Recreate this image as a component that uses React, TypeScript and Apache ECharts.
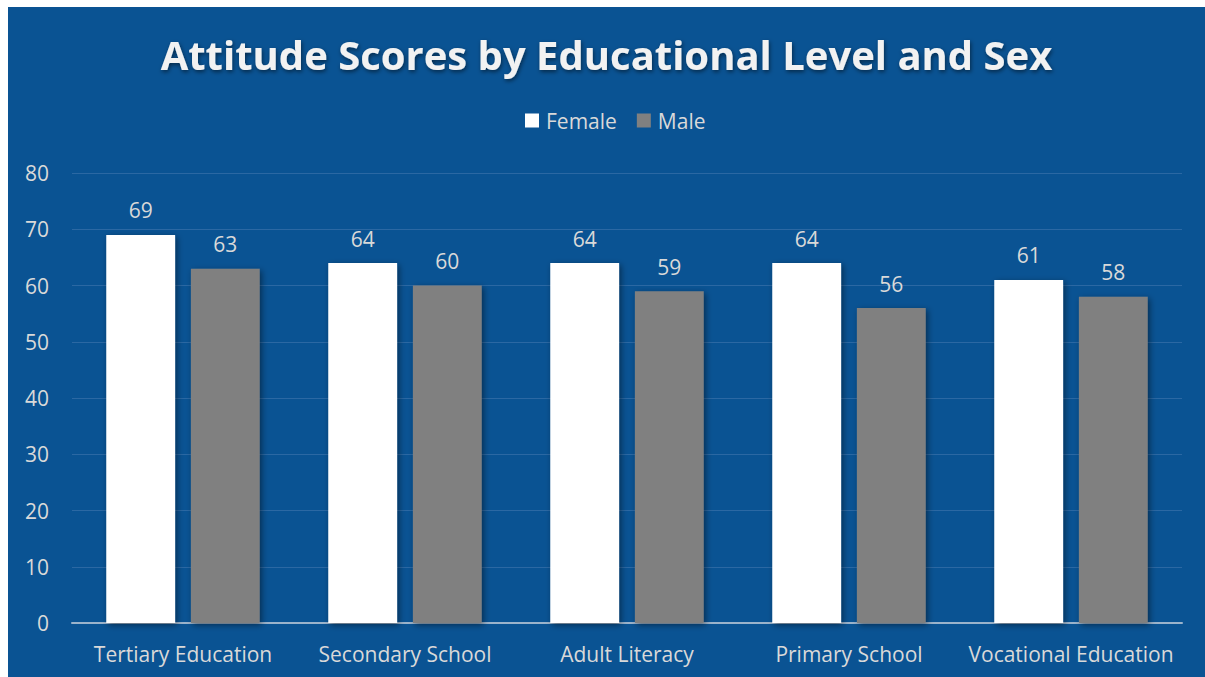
import React, { useEffect, useRef } from "react";
import * as echarts from "echarts";

const categories = ["Tertiary Education", "Secondary School", "Adult Literacy", "Primary School", "Vocational Education"];
const female = [69, 64, 64, 64, 61];
const male = [63, 60, 59, 56, 58];
const yTicks = [0, 10, 20, 30, 40, 50, 60, 70, 80];

export default function App() {
  const ref = useRef<HTMLDivElement>(null);
  useEffect(() => {
    if (!ref.current) return;
    const chart = echarts.init(ref.current, null, { renderer: "svg" });
    const font = "'Open Sans', sans-serif";
    const shadow = {
      shadowColor: "rgba(0,0,0,0.45)",
      shadowBlur: 6,
      shadowOffsetX: 2,
      shadowOffsetY: 2,
    };
    chart.setOption({
      animation: false,
      backgroundColor: "#0a5393",
      title: {
        text: "Attitude Scores by Educational Level and Sex",
        left: "center",
        top: 22,
        textStyle: {
          color: "#f2f2f2",
          fontFamily: font,
          fontWeight: "bold",
          fontSize: 40,
          textShadowColor: "rgba(0,0,0,0.5)",
          textShadowBlur: 4,
          textShadowOffsetX: 1,
          textShadowOffsetY: 2,
        },
      },
      legend: {
        top: 98,
        left: 512,
        itemWidth: 14,
        itemHeight: 14,
        itemGap: 20,
        icon: "rect",
        textStyle: { color: "#d9d9d9", fontFamily: font, fontSize: 21, padding: [0, 0, 0, 2] },
        data: ["Female", "Male"],
      },
      grid: { left: 64, right: 23, top: 166, bottom: 54, containLabel: false },
      xAxis: {
        type: "category",
        data: categories,
        axisLine: { lineStyle: { color: "#9bb3cb", width: 2 } },
        axisTick: { show: false },
        axisLabel: { color: "#d9d9d9", fontFamily: font, fontSize: 21, margin: 20, interval: 0 },
      },
      yAxis: {
        type: "value",
        min: yTicks[0],
        max: yTicks[yTicks.length - 1],
        interval: 10,
        axisLine: { show: false },
        axisTick: { show: false },
        splitLine: { lineStyle: { color: "#2b68a3", width: 1 } },
        axisLabel: { color: "#d9d9d9", fontFamily: font, fontSize: 21, margin: 23 },
      },
      series: [
        {
          name: "Female",
          type: "bar",
          data: female,
          barWidth: "31%",
          barGap: "23%",
          itemStyle: { color: "#ffffff", ...shadow },
          label: { show: true, position: "top", distance: 14, color: "#d9d9d9", fontFamily: font, fontSize: 21 },
        },
        {
          name: "Male",
          type: "bar",
          data: male,
          barWidth: "31%",
          itemStyle: { color: "#808080", ...shadow },
          label: { show: true, position: "top", distance: 14, color: "#d9d9d9", fontFamily: font, fontSize: 21 },
        },
      ],
    });
    return () => chart.dispose();
  }, []);
  return (
    <div
      ref={ref}
      style={{ position: "fixed", left: 8, top: 7, width: 1197, height: 670 }}
    />
  );
}
